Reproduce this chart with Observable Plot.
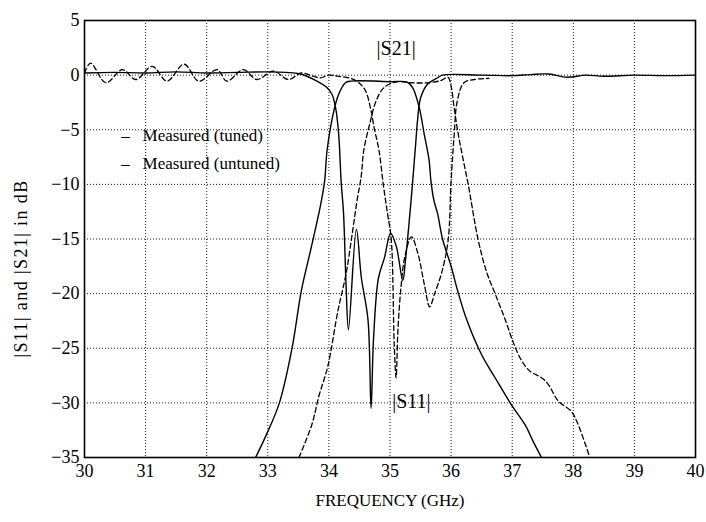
<!DOCTYPE html>
<html>
<head>
<meta charset="utf-8">
<script src="https://cdn.jsdelivr.net/npm/d3@7"></script>
<script src="https://cdn.jsdelivr.net/npm/@observablehq/plot@0.6"></script>
<style>
  html, body { margin: 0; padding: 0; background: #fff; }
  #chart svg { display: block; }
  #chart svg text { font-family: 'Liberation Serif', 'Times New Roman', serif; }
  #chart svg .y-title { letter-spacing: 1.4px; }
</style>
</head>
<body>
<div id="chart"></div>
<script>
// Frequency (GHz), magnitude (dB) pairs for each measured trace
const s11Tuned = [
  [30.0, 0.2], [30.5, 0.25], [31.0, 0.2], [31.5, 0.3], [32.0, 0.2], [32.5, 0.25],
  [33.0, 0.3], [33.3, 0.25], [33.54, 0.1], [33.75, -0.4], [33.97, -1.15], [34.05, -1.75],
  [34.11, -3.0], [34.16, -5.4], [34.2, -9.7], [34.24, -12.7], [34.28, -19.1], [34.32, -23.3],
  [34.45, -14.1], [34.53, -18.5], [34.64, -22.4], [34.69, -30.5], [34.73, -24.2], [34.81, -18.6],
  [34.91, -16.7], [35.01, -14.5], [35.1, -15.6], [35.21, -18.8], [35.25, -17.1], [35.36, -10.5],
  [35.42, -6.3], [35.45, -4.2], [35.5, -2.1], [35.61, -0.85], [35.78, -0.24], [35.86, 0.0],
  [36.5, 0.0], [37.0, -0.05], [37.3, 0.05], [37.6, 0.1], [37.9, -0.2], [38.2, 0.0],
  [38.5, -0.1], [39.0, 0.0], [39.5, -0.05], [40.0, 0.0]
];

const s21Tuned = [
  [32.8, -35], [32.97, -33], [33.19, -30], [33.4, -24.9], [33.55, -19.7], [33.71, -15.8],
  [33.86, -12.0], [33.93, -9.7], [33.97, -6.9], [34.08, -3.3], [34.16, -1.75], [34.27, -0.7],
  [34.36, -0.55], [35.0, -0.6], [35.28, -0.64], [35.37, -1.15], [35.48, -3.0], [35.56, -5.4],
  [35.64, -7.8], [35.67, -9.7], [35.72, -11.5], [35.78, -12.7], [35.86, -15], [36.0, -17.5],
  [36.11, -19.8], [36.25, -22.3], [36.5, -25.6], [36.72, -27.7], [36.99, -30.2], [37.21, -32],
  [37.34, -33.5], [37.48, -35]
];

const s11Untuned = [
  [30.0, 0.2], [30.1, 1.1], [30.35, -0.7], [30.62, 0.5], [30.84, -0.4], [31.11, 0.8],
  [31.35, -0.55], [31.63, 1.0], [31.87, -0.55], [32.17, 0.5], [32.33, -0.55], [32.6, 0.5],
  [32.82, -0.4], [33.09, 0.36], [33.34, -0.4], [33.55, 0.2], [33.74, -0.1], [33.86, -0.25],
  [34.0, 0.0], [34.14, -0.1], [34.36, -0.3], [34.49, -0.7], [34.6, -1.45], [34.68, -3.0],
  [34.74, -4.8], [34.82, -6.9], [34.89, -10], [34.96, -12.7], [35.02, -15], [35.07, -24.8],
  [35.1, -27.7], [35.13, -23.3], [35.18, -19.4], [35.24, -16.7], [35.35, -14.8], [35.46, -16.4],
  [35.56, -19.1], [35.65, -21.2], [35.73, -20], [35.84, -18.2], [35.95, -15.2], [36.0, -9.7],
  [36.05, -5.5], [36.1, -2.4], [36.21, -0.7], [36.38, -0.4], [36.62, -0.3]
];

const s21Untuned = [
  [33.51, -35], [33.72, -32], [33.84, -29.3], [33.98, -26.7], [34.15, -21.5], [34.28, -18.2],
  [34.39, -14.2], [34.46, -11.5], [34.53, -9.2], [34.57, -6.9], [34.68, -4.2], [34.77, -2.4],
  [34.9, -1.15], [35.12, -0.6], [35.34, -0.7], [35.61, -0.7], [35.83, -0.5], [35.95, -0.2],
  [36.0, -1.0], [36.05, -3], [36.12, -5.5], [36.2, -7.8], [36.28, -10], [36.44, -15],
  [36.58, -18], [36.72, -20], [36.88, -22.3], [37.02, -24.5], [37.15, -26.1], [37.29, -27.1],
  [37.48, -27.7], [37.59, -28.3], [37.75, -29.8], [37.97, -30.8], [38.08, -32], [38.27, -35]
];

const xTicks = [30, 31, 32, 33, 34, 35, 36, 37, 38, 39, 40];
const yTicks = [5, 0, -5, -10, -15, -20, -25, -30, -35];
const legendLabels = ["Measured (tuned)", "Measured (untuned)"];
const curveLabels = ["|S21|", "|S11|"];
const xTitle = "FREQUENCY (GHz)";
const yTitle = "|S11| and |S21| in dB";

const serif = "'Liberation Serif', 'Times New Roman', serif";
const dotted = "1,2";
const dashed = "5,3";

const chart = Plot.plot({
  width: 706,
  height: 522,
  marginLeft: 84,
  marginRight: 11,
  marginTop: 20,
  marginBottom: 65,
  style: { fontFamily: serif, fontSize: "18px", color: "black", background: "white" },
  x: { domain: [30, 40] },
  y: { domain: [-35, 5] },
  marks: [
    Plot.gridX(xTicks, { stroke: "black", strokeOpacity: 0.9, strokeDasharray: dotted }),
    Plot.gridY(yTicks, { stroke: "black", strokeOpacity: 0.9, strokeDasharray: dotted }),
    Plot.axisX(xTicks, { tickSize: 0, tickPadding: 7, label: null, fontSize: 18, fontFamily: serif }),
    Plot.axisY(yTicks, { tickSize: 0, tickPadding: 5, label: null, fontSize: 18, fontFamily: serif }),
    Plot.frame({ stroke: "black", strokeWidth: 1.6 }),

    // measured traces
    Plot.line(s21Untuned, { x: d => d[0], y: d => d[1], curve: "catmull-rom", clip: true,
      stroke: "black", strokeWidth: 1.3, strokeDasharray: dashed }),
    Plot.line(s11Untuned, { x: d => d[0], y: d => d[1], curve: "catmull-rom", clip: true,
      stroke: "black", strokeWidth: 1.3, strokeDasharray: dashed }),
    Plot.line(s21Tuned, { x: d => d[0], y: d => d[1], curve: "catmull-rom", clip: true,
      stroke: "black", strokeWidth: 1.4 }),
    Plot.line(s11Tuned, { x: d => d[0], y: d => d[1], curve: "catmull-rom", clip: true,
      stroke: "black", strokeWidth: 1.4 }),

    // curve annotations
    Plot.text(curveLabels, {
      x: (d, i) => [35.1, 35.35][i],
      y: (d, i) => [2.45, -29.9][i],
      fontSize: 20, fontFamily: serif, fill: "black", lineAnchor: "middle"
    }),

    // legend
    Plot.text(legendLabels, {
      x: 30.67, y: (d, i) => -5.5 - i * 2.55, text: () => "–",
      fontSize: 17, fontFamily: serif, fill: "black", lineAnchor: "middle"
    }),
    Plot.text(legendLabels, {
      x: 30.95, y: (d, i) => -5.5 - i * 2.55, textAnchor: "start",
      fontSize: 17, fontFamily: serif, fill: "black", lineAnchor: "middle"
    }),

    // axis titles
    Plot.text([xTitle], { frameAnchor: "bottom", dy: 43, fontSize: 17, fontFamily: serif, fill: "black", lineAnchor: "middle" }),
    Plot.text([yTitle], { x: 28.97, y: -17.7, rotate: -90, fontSize: 18, fontFamily: serif, fill: "black",
      lineAnchor: "middle", className: "y-title" })
  ]
});

document.getElementById("chart").appendChild(chart);
</script>
</body>
</html>
